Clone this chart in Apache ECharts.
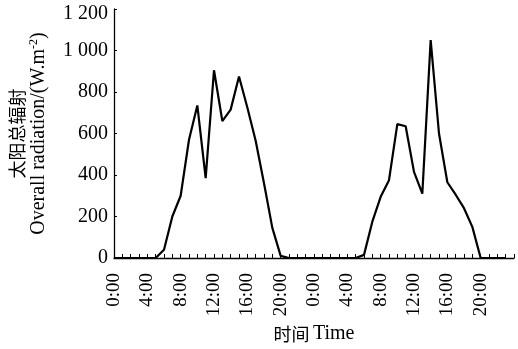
<!DOCTYPE html>
<html>
<head>
<meta charset="utf-8">
<script src="https://cdn.jsdelivr.net/npm/echarts@6/dist/echarts.min.js"></script>
<style>
  html, body { margin: 0; padding: 0; background: #fff; }
  #radiationChart { width: 518px; height: 349px; }
</style>
</head>
<body>
<div id="radiationChart"></div>
<script>
// hours since start of day 1
var hours = [0, 1, 2, 3, 4, 5, 6, 7, 8, 9, 10, 11, 12, 13, 14, 15, 16, 17, 18, 19, 20, 21, 22, 23,
             24, 25, 26, 27, 28, 29, 30, 31, 32, 33, 34, 35, 36, 37, 38, 39, 40, 41, 42, 43, 44, 45, 46, 47];
// overall radiation W/m2
var radiation = [0, 0, 0, 0, 0, 0, 40, 200, 300, 570, 735, 385, 905, 660, 715, 875, 725, 565, 360, 145, 10, 0, 0, 0,
                 0, 0, 0, 0, 0, 0, 15, 175, 295, 375, 645, 635, 415, 310, 1050, 600, 365, 305, 240, 150, 0, 0, 0, 0];
var xTickLabels = ['0:00', '4:00', '8:00', '12:00', '16:00', '20:00', '0:00', '4:00', '8:00', '12:00', '16:00', '20:00'];
var yTicks = [0, 200, 400, 600, 800, 1000, 1200];

var serif = "'Liberation Serif', 'Noto Sans CJK SC', serif";

var chart = echarts.init(document.getElementById('radiationChart'));
var seriesData = hours.map(function (h, i) { return [h, radiation[i]]; });

chart.setOption({
    animation: false,
    backgroundColor: '#fff',
    grid: { left: 114, right: 4, top: 9, bottom: 91, outerBoundsMode: 'none', containLabel: false },
    xAxis: {
        type: 'value',
        min: 0,
        max: 48,
        interval: 4,
        name: '{cn|时间} {en|Time}',
        nameLocation: 'middle',
        nameGap: 64,
        nameTextStyle: {
            rich: {
                cn: { fontFamily: "'Noto Sans CJK SC'", fontSize: 18, color: '#000' },
                en: { fontFamily: serif, fontSize: 20, color: '#000' }
            }
        },
        axisLine: { lineStyle: { color: '#000', width: 1.3 } },
        axisTick: { inside: true, length: 4, lineStyle: { color: '#000', width: 1 } },
        minorTick: { show: true, splitNumber: 4, length: 4, lineStyle: { color: '#000', width: 1 } },
        splitLine: { show: false },
        axisLabel: {
            rotate: 90,
            margin: 15,
            fontFamily: serif,
            fontSize: 19,
            color: '#000',
            showMaxLabel: false,
            formatter: function (v) {
                var k = Math.round(v / 4);
                return xTickLabels[k] || '';
            }
        }
    },
    yAxis: {
        type: 'value',
        min: yTicks[0],
        max: yTicks[yTicks.length - 1],
        interval: 200,
        name: '{cn|太阳总辐射}\n{en|Overall radiation/(W.m}{sup|-2}{en|)}',
        nameLocation: 'middle',
        nameRotate: 90,
        nameGap: 64,
        nameTextStyle: {
            align: 'center',
            rich: {
                cn: { fontFamily: "'Noto Sans CJK SC'", fontSize: 18, lineHeight: 22, color: '#000' },
                en: { fontFamily: serif, fontSize: 20, lineHeight: 22, color: '#000' },
                sup: { fontFamily: serif, fontSize: 12, lineHeight: 12, verticalAlign: 'top', color: '#000' }
            }
        },
        axisLine: { show: true, lineStyle: { color: '#000', width: 1.3 } },
        axisTick: { show: true, inside: true, length: 3, lineStyle: { color: '#000', width: 1 } },
        splitLine: { show: false },
        axisLabel: {
            margin: 6,
            fontFamily: serif,
            fontSize: 20,
            color: '#000',
            formatter: function (v) {
                var s = v >= 1000 ? Math.floor(v / 1000) + ' ' + String(v % 1000).padStart(3, '0') : String(v);
                // top label sits a little below the axis end in the reference
                return v === yTicks[yTicks.length - 1] ? '{top|' + s + '}' : s;
            },
            rich: {
                top: { fontFamily: serif, fontSize: 20, color: '#000', padding: [9, 0, 0, 0] }
            }
        }
    },
    series: [{
        type: 'line',
        data: seriesData,
        showSymbol: false,
        symbol: 'none',
        lineStyle: { color: '#000', width: 2.2 },
        z: 3
    }]
});
</script>
</body>
</html>
